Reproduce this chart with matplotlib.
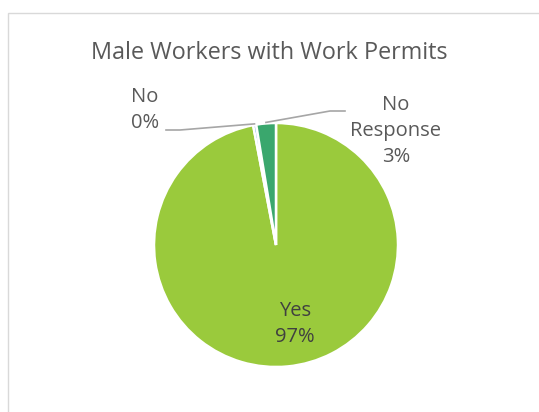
import numpy as np
import matplotlib.pyplot as plt
from matplotlib.patches import Rectangle

plt.rcParams['font.family'] = ['Open Sans', 'DejaVu Sans']

# ── data ──────────────────────────────────────────────────────────────────────
categories = ['Yes', 'No', 'No Response']
shares     = [97.0, 0.4, 2.6]          # percent of respondents
colors     = ['#9ACA3C', '#5B9BD5', '#3AA76D']
title      = 'Male Workers with Work Permits'

W, H = 539, 412
TXT = '#595959'
FS = 14.5
LS = 1.4

fig = plt.figure(figsize=(W / 100, H / 100), dpi=100)
ax = fig.add_axes([0, 0, 1, 1])

# chart frame
ax.add_patch(Rectangle((7.5, -20), W + 20, H - 12.5 + 20, fill=False,
                       edgecolor='#D9D9D9', linewidth=1.0))

cx, cy, r = 276, H - 245, 122
wedges, _ = ax.pie(shares, colors=colors, startangle=90, counterclock=False,
                   center=(cx, cy), radius=r, frame=True,
                   wedgeprops=dict(edgecolor='white', linewidth=1.8))
ax.set_xlim(0, W)
ax.set_ylim(0, H)
ax.set_aspect('equal')
ax.axis('off')

ax.text(W / 2, H - 53, title, ha='center', va='center',
        fontsize=16.8, color=TXT)

def pct(v):
    return f'{v:.0f}%'

def mid_point(w, rr):
    a = np.deg2rad((w.theta1 + w.theta2) / 2)
    return cx + rr * np.cos(a), cy + rr * np.sin(a)

# Yes: label inside the slice
ax.text(295, H - 324, f'{categories[0]}\n{pct(shares[0])}', ha='center',
        va='center', fontsize=FS, color='#404040', linespacing=LS)

# No: label to the upper left with leader line
x0, y0 = mid_point(wedges[1], r + 1)
ax.plot([x0, 180, 166], [y0, H - 130, H - 130], color='#A6A6A6', lw=1.2)
ax.text(145, H - 110, f'{categories[1]}\n{pct(shares[1])}', ha='center',
        va='center', fontsize=FS, color=TXT, linespacing=LS)

# No Response: label to the upper right with leader line
x1, y1 = mid_point(wedges[2], r + 1)
ax.plot([x1, 330, 345], [y1, H - 111, H - 111], color='#A6A6A6', lw=1.2)
ax.text(396, H - 131, f'No\nResponse\n{pct(shares[2])}', ha='center',
        va='center', fontsize=FS, color=TXT, linespacing=LS)

fig.savefig('out.png', dpi=100, facecolor='white')
